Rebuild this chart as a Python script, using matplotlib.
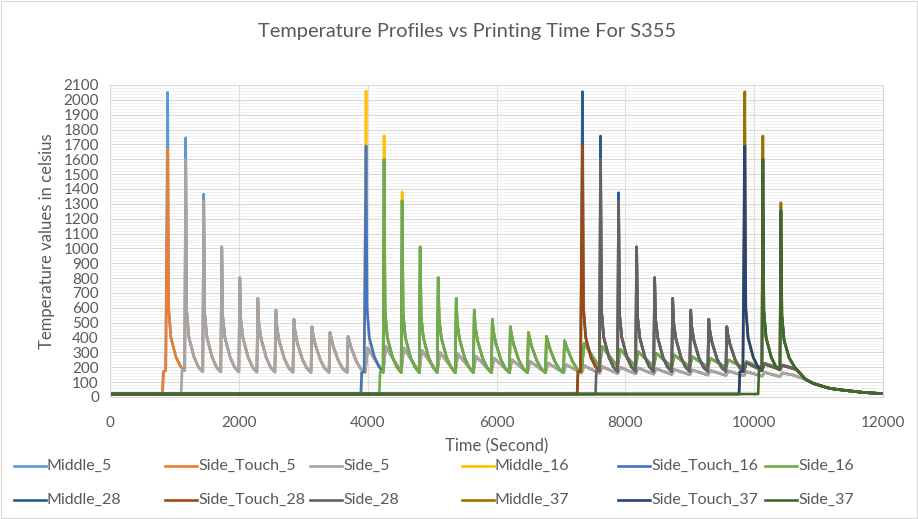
import matplotlib
matplotlib.use("Agg")
import matplotlib.pyplot as plt
from matplotlib.lines import Line2D
from matplotlib.patches import Rectangle
from matplotlib.ticker import MultipleLocator

plt.rcParams['font.family'] = ['Lato', 'DejaVu Sans']

# ---------------- data ----------------
BASE = 20
# times (s) of the deposition peaks (one every printing pass)
T_CYCLE = [895, 1175, 1455, 1735, 2015, 2295, 2575, 2855, 3135, 3415, 3695,
           3975, 4255, 4535, 4815, 5095, 5375, 5655, 5935, 6215, 6495, 6775,
           7055, 7335, 7615, 7895, 8175, 8455, 8735, 9015, 9295, 9575, 9855,
           10135, 10415]

# common cooling tail after the last pass
TAIL_T = [10657, 10800, 10915, 11000, 11174, 11400, 11691, 12000]
TAIL_V = [185, 118, 92, 80, 58, 45, 31, 22]

# ---- layer 5 ----
S5_PRE = [(0, BASE), (1105, BASE), (1118, 178), (1160, 178)]
S5_SPK_K = [1, 2, 3, 4, 5, 6, 7, 8, 9, 10]
S5_SPK_P = [1600, 1320, 1010, 803, 664, 585, 523, 473, 435, 406]
S5_SPK_A = [580, 560, 540, 520, 500, 475, 450, 425, 405, 385]
S5_SPK_B = [400, 400, 398, 395, 392, 380, 368, 355, 342, 330]
S5_SPK_C = [268, 268, 267, 266, 265, 260, 255, 250, 245, 240]
S5_SPK_D = [200, 200, 200, 199, 198, 196, 194, 192, 190, 188]
S5_SPK_V = [None, 170, 170, 169, 168, 168, 167, 166, 166, 165]
S5_HMP_K = list(range(11, 35))
S5_HMP_H = [330, 340, 330, 315, 300, 290, 275, 262, 250, 240, 228, 218,
            210, 205, 200, 195, 190, 185, 182, 178, 175, 170, 166, 162]
S5_HMP_V = [165, 165, 168, 168, 168, 167, 167, 166, 166, 165, 165, 164,
            162, 160, 158, 156, 154, 152, 150, 148, 146, 143, 140, 137]
S5_POST = [(10600, 148)]
T5_PRE = [(0, BASE), (815, BASE), (828, 170), (865, 178)]
T5_SPK = (0, 1670, 600, 400, 268, 205)
M5_PEAKS = {895: 2050, 1175: 1745, 1455: 1366}

# ---- layer 16 ----
S16_PRE = [(0, BASE), (4180, BASE), (4193, 170), (4240, 170)]
S16_SPK_K = [12, 13, 14, 15, 16, 17, 18, 19, 20, 21, 22]
S16_SPK_P = [1600, 1320, 1010, 803, 664, 585, 523, 473, 435, 408, 379]
S16_SPK_A = [580, 560, 540, 520, 500, 475, 450, 425, 405, 385, 360]
S16_SPK_B = [400, 400, 398, 395, 392, 380, 368, 355, 342, 330, 318]
S16_SPK_C = [268, 268, 267, 266, 265, 260, 255, 250, 245, 240, 235]
S16_SPK_D = [200, 200, 200, 199, 198, 196, 194, 192, 190, 188, 186]
S16_SPK_V = [None, 165, 165, 165, 164, 164, 164, 164, 165, 165, 166]
S16_HMP_K = list(range(23, 35))
S16_HMP_H = [362, 339, 320, 305, 294, 283, 271, 260, 249, 238, 227, 215]
S16_HMP_V = [170, 200, 205, 205, 205, 204, 203, 202, 200, 198, 196, 194]
S16_POST = [(10560, 200)]
T16_PRE = [(0, BASE), (3895, BASE), (3908, 165), (3945, 170)]
T16_SPK = (11, 1690, 600, 400, 268, 205)
M16_PEAKS = {3975: 2060, 4255: 1759, 4535: 1380}

# ---- layer 28 ----
S28_PRE = [(0, BASE), (7537, BASE), (7550, 175), (7600, 175)]
S28_SPK_K = [24, 25, 26, 27, 28, 29, 30, 31]
S28_SPK_P = [1600, 1320, 1010, 803, 664, 585, 523, 473]
S28_SPK_A = [580, 560, 540, 520, 500, 475, 450, 425]
S28_SPK_B = [400, 400, 398, 395, 392, 380, 368, 355]
S28_SPK_C = [268, 268, 267, 266, 265, 260, 255, 250]
S28_SPK_D = [202, 202, 202, 201, 200, 199, 198, 197]
S28_SPK_V = [None, 172, 172, 172, 172, 172, 172, 172]
S28_HMP_K = [32, 33, 34]
S28_HMP_H = [230, 222, 212]
S28_HMP_V = [172, 180, 185]
S28_POST = []
T28_PRE = [(0, BASE), (7252, BASE), (7265, 170), (7305, 172)]
T28_SPK = (23, 1690, 600, 400, 268, 205)
M28_PEAKS = {7335: 2055, 7615: 1757, 7895: 1375}

# ---- layer 37 ----
S37_PRE = [(0, BASE), (10062, BASE), (10075, 178), (10120, 178)]
S37_SPK_K = [33, 34]
S37_SPK_P = [1600, 1255]
S37_SPK_A = [580, 550]
S37_SPK_B = [400, 380]
S37_SPK_C = [268, 262]
S37_SPK_D = [205, 210]
S37_SPK_V = [None, 182]
S37_HMP_K, S37_HMP_H, S37_HMP_V = [], [], []
S37_POST = []
T37_PRE = [(0, BASE), (9765, BASE), (9778, 170), (9825, 172)]
T37_SPK = (32, 1690, 600, 400, 268, 205)
M37_PEAKS = {9855: 2055, 10135: 1757, 10415: 1308}

NAMES = ['Middle_5', 'Side_Touch_5', 'Side_5', 'Middle_16', 'Side_Touch_16', 'Side_16',
         'Middle_28', 'Side_Touch_28', 'Side_28', 'Middle_37', 'Side_Touch_37', 'Side_37']
COLORS = ['#5B9BD5', '#ED7D31', '#A5A5A5', '#FFC000', '#4472C4', '#70AD47',
          '#255E91', '#9E480E', '#636363', '#997300', '#264478', '#43682B']

# offsets (s) after a peak at which the decay readings were taken
DECAY_OFF = [0, 15, 50, 130, 200]


# ---------------- build the point lists ----------------
def spike_pts(ks, peaks, a, b, c, d, valleys):
    pts = []
    for k, p, aa, bb, cc, dd, v in zip(ks, peaks, a, b, c, d, valleys):
        tp = T_CYCLE[k]
        if v is not None:
            pts.append((tp - 15, v))
        pts += [(tp + o, val) for o, val in zip(DECAY_OFF, (p, aa, bb, cc, dd))]
    return pts


def hump_pts(ks, heights, valleys):
    pts = []
    for k, h, v in zip(ks, heights, valleys):
        tp = T_CYCLE[k]
        pts += [(tp - 15, v), (tp + 25, h)]
    return pts


def tail_from(t0):
    return [(t, v) for t, v in zip(TAIL_T, TAIL_V) if t >= t0]


def side_series(pre, sk, sp, sa, sb, sc, sd, sv, hk, hh, hv, post, tail_start):
    return (pre + spike_pts(sk, sp, sa, sb, sc, sd, sv) + hump_pts(hk, hh, hv)
            + post + tail_from(tail_start))


def touch_series(pre, spk, side, join_t):
    k = spk[0]
    tp = T_CYCLE[k]
    return pre + [(tp + o, val) for o, val in zip(DECAY_OFF, spk[1:])] + \
        [(t, v) for t, v in side if t >= join_t]


def middle_series(touch, peaks):
    return [(t, peaks.get(t, v)) for t, v in touch]


s5 = side_series(S5_PRE, S5_SPK_K, S5_SPK_P, S5_SPK_A, S5_SPK_B, S5_SPK_C, S5_SPK_D,
                 S5_SPK_V, S5_HMP_K, S5_HMP_H, S5_HMP_V, S5_POST, 10800)
t5 = touch_series(T5_PRE, T5_SPK, s5, S5_PRE[-1][0])
m5 = middle_series(t5, M5_PEAKS)

s16 = side_series(S16_PRE, S16_SPK_K, S16_SPK_P, S16_SPK_A, S16_SPK_B, S16_SPK_C, S16_SPK_D,
                  S16_SPK_V, S16_HMP_K, S16_HMP_H, S16_HMP_V, S16_POST, 10657)
t16 = touch_series(T16_PRE, T16_SPK, s16, S16_PRE[-1][0])
m16 = middle_series(t16, M16_PEAKS)

s28 = side_series(S28_PRE, S28_SPK_K, S28_SPK_P, S28_SPK_A, S28_SPK_B, S28_SPK_C, S28_SPK_D,
                  S28_SPK_V, S28_HMP_K, S28_HMP_H, S28_HMP_V, S28_POST, 10657)
t28 = touch_series(T28_PRE, T28_SPK, s28, S28_PRE[-1][0])
m28 = middle_series(t28, M28_PEAKS)

s37 = side_series(S37_PRE, S37_SPK_K, S37_SPK_P, S37_SPK_A, S37_SPK_B, S37_SPK_C, S37_SPK_D,
                  S37_SPK_V, S37_HMP_K, S37_HMP_H, S37_HMP_V, S37_POST, 10657)
t37 = touch_series(T37_PRE, T37_SPK, s37, S37_PRE[-1][0])
m37 = middle_series(t37, M37_PEAKS)

SERIES = [m5, t5, s5, m16, t16, s16, m28, t28, s28, m37, t37, s37]

# ---------------- figure ----------------
W, H = 918, 519
fig = plt.figure(figsize=(W / 100, H / 100), dpi=100)
ax = fig.add_axes([110 / W, 1 - 397 / H, (883 - 110) / W, (397 - 85) / H])

TXT = '#595959'
handles = []
for pts, name, col in zip(SERIES, NAMES, COLORS):
    xs = [p[0] for p in pts]
    ys = [p[1] for p in pts]
    ln, = ax.plot(xs, ys, color=col, lw=1.9, solid_joinstyle='round', label=name)
    handles.append(ln)

ax.set_xlim(0, 12000)
ax.set_ylim(0, 2100)
ax.xaxis.set_major_locator(MultipleLocator(2000))
ax.yaxis.set_major_locator(MultipleLocator(100))
ax.yaxis.set_minor_locator(MultipleLocator(20))
ax.grid(which='major', axis='both', color='#D9D9D9', lw=0.8)
ax.grid(which='minor', axis='y', color='#EEEEEE', lw=0.6)
ax.set_axisbelow(True)
for sp in ax.spines.values():
    sp.set_color('#D9D9D9')
    sp.set_linewidth(0.8)
ax.tick_params(which='both', length=0, colors=TXT, labelsize=11)
ax.tick_params(axis='x', pad=14)
ax.tick_params(axis='y', pad=8)

ax.set_xlabel('Time (Second)', fontsize=12, color=TXT, labelpad=6)
ax.set_ylabel('Temperature values in celsius', fontsize=12, color=TXT, labelpad=6)
fig.text(467 / W, 1 - 32 / H, 'Temperature Profiles vs Printing Time For S355',
         ha='center', va='center', fontsize=14.4, color=TXT)

# legend (two rows of six entries, Excel style)
col_x = [14, 165, 310, 462, 618, 765]
row_y = [466, 500]
for i, h in enumerate(handles):
    x0 = col_x[i % 6]
    y0 = row_y[i // 6]
    fig.add_artist(Line2D([x0 / W, (x0 + 32) / W], [1 - y0 / H, 1 - y0 / H],
                          color=h.get_color(), lw=1.9, transform=fig.transFigure))
    fig.text((x0 + 33) / W, 1 - y0 / H, h.get_label(), ha='left', va='center',
             fontsize=11.5, color=TXT)

fig.add_artist(Rectangle((1 / W, 1 / H), (W - 2) / W, (H - 2) / H, transform=fig.transFigure,
                         fill=False, edgecolor='#D9D9D9', lw=0.8))

fig.savefig('out.png', dpi=100)
